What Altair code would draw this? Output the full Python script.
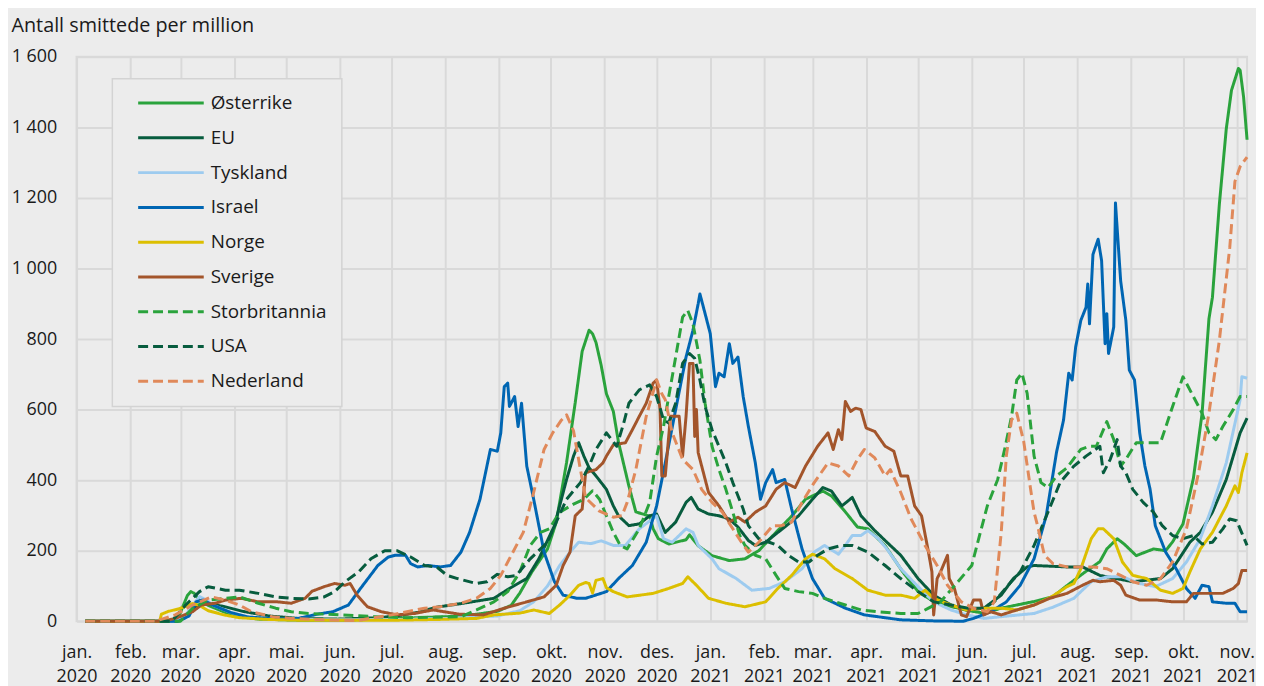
import json
import pandas as pd
import altair as alt

# ---------------- data (x = days since 1 Jan 2020, y = cases per million) ----------------
series_names = ["Østerrike", "EU", "Tyskland", "Israel", "Norge", "Sverige",
                "Storbritannia", "USA", "Nederland"]
series_colors = ["#2aa33c", "#075c3e", "#9dcbef", "#0066b3", "#dcbf00", "#a3552b",
                 "#2aa33c", "#075c3e", "#e0895a"]
series_dash = [[1, 0], [1, 0], [1, 0], [1, 0], [1, 0], [1, 0], [10, 5], [10, 5], [10, 5]]

month_labels = ["jan.", "feb.", "mar.", "apr.", "mai.", "jun.", "jul.", "aug.",
                "sep.", "okt.", "nov.", "des."]
start_date = "2020-01-01"
last_tick = "2021-11-01"
x_max_day = 676
y_ticks = [0, 200, 400, 600, 800, 1000, 1200, 1400, 1600]

aut_day = [5,58,61,64,66,68,71,76,80,90,105,128,157,185,203,220,231,243,251,256,263,272,277,283,288,292,296,298,300,303,306,310,313,319,323,331,333,336,342,352,354,359,367,377,386,394,402,413,421,431,436,444,451,457,467,477,486,495,505,514,524,534,553,564,572,582,587,591,595,601,605,612,622,629,633,639,645,650,654,656,660,664,667,671,672,674,676]
aut_val = [0,0,37,73,84,79,59,45,37,17,6,3,3,8,11,14,20,28,45,80,140,205,280,450,620,765,825,815,790,725,645,595,507,383,310,298,262,234,219,231,245,214,186,172,177,200,242,298,346,369,355,310,267,262,214,141,84,56,42,31,23,37,56,70,101,138,155,169,205,234,219,186,205,200,225,276,405,588,858,918,1182,1396,1505,1567,1562,1486,1365]

eu_day = [5,58,62,66,71,76,85,96,111,128,151,174,185,197,208,222,241,250,260,267,276,283,287,290,293,296,300,306,310,313,319,325,331,335,340,346,352,355,359,365,371,377,382,388,392,398,404,409,417,425,431,436,442,448,453,461,468,476,486,495,505,514,524,534,541,549,553,572,581,591,610,626,633,643,649,656,664,672,676]
eu_val = [0,0,10,30,45,50,42,28,15,8,6,10,15,25,40,50,65,93,121,177,271,402,468,506,468,435,412,374,327,299,271,276,299,304,252,281,337,351,318,304,299,290,267,229,215,224,248,267,299,346,379,369,327,351,299,257,224,187,121,74,46,32,37,74,121,154,158,154,154,130,112,121,149,224,252,309,402,534,576]

de_day = [5,56,62,67,71,75,79,89,99,117,145,185,214,243,256,264,272,279,285,290,297,303,310,317,325,335,339,344,352,356,359,367,371,381,390,400,409,419,426,432,440,444,448,453,457,463,468,476,486,495,505,514,524,534,553,564,576,586,595,604,614,623,633,641,649,656,664,672,673,676]
de_val = [0,0,10,45,70,60,45,25,12,6,4,5,8,15,30,55,100,158,196,224,220,228,215,215,262,299,234,224,262,252,215,177,149,121,88,93,112,149,196,215,190,215,243,243,257,234,205,149,98,55,32,18,8,13,22,40,65,112,126,126,107,98,121,168,234,327,449,628,693,689]

il_day = [5,59,65,69,73,79,89,99,117,128,139,148,157,164,174,180,184,190,193,197,203,210,216,222,227,233,239,243,245,247,249,250,253,255,257,260,264,270,276,281,289,294,306,313,321,329,335,340,346,352,356,359,360,363,366,369,371,374,377,379,382,385,388,392,395,398,402,404,409,413,419,425,432,444,455,476,495,512,518,528,537,545,553,560,566,570,573,575,577,580,583,584,585,587,590,592,594,595,596,599,600,603,606,608,611,614,617,620,623,629,635,641,646,650,654,656,664,669,672,676]
il_val = [0,0,15,55,60,45,25,12,6,8,20,27,46,93,158,182,187,187,163,154,158,154,158,196,252,346,487,482,534,665,675,609,637,552,618,440,346,196,112,74,65,65,84,121,158,224,327,449,600,749,825,900,928,872,815,665,703,693,787,731,749,637,552,449,346,393,430,393,402,318,205,121,65,37,18,4,1,0,8,27,55,102,177,299,480,570,703,684,777,853,890,956,843,1040,1083,1022,787,872,759,834,1186,965,853,712,684,534,440,374,271,196,149,93,65,102,98,55,51,51,27,27]

no_day = [5,48,49,53,59,67,71,76,85,94,111,128,185,208,231,241,256,264,273,279,285,290,294,296,298,300,304,306,310,318,333,342,350,353,358,365,375,386,398,405,413,421,425,432,438,448,457,467,476,484,490,495,505,514,524,534,543,553,563,572,576,580,586,590,593,599,604,610,618,626,633,639,643,649,656,664,669,671,673,676]
no_val = [0,0,20,28,35,50,45,30,18,10,5,3,3,5,8,18,23,32,22,46,74,102,110,107,80,116,121,95,84,69,79,93,107,126,102,65,51,41,55,93,130,177,190,177,149,121,88,74,74,65,88,65,46,32,37,37,32,46,69,98,107,149,234,262,262,234,168,130,121,88,79,93,140,205,252,327,384,365,421,477]

se_day = [5,50,57,67,72,80,86,95,105,116,124,132,136,143,149,155,158,162,168,176,185,195,206,221,235,247,260,270,277,281,285,288,292,294,300,304,306,310,317,321,325,329,333,335,337,338,340,343,348,350,352,354,356,357,358,359,365,371,377,382,386,392,398,404,409,415,421,428,434,437,440,442,444,447,450,453,456,461,467,472,476,480,484,488,492,494,495,497,499,503,504,507,511,514,518,522,524,528,534,543,553,562,572,581,587,591,599,603,606,614,624,633,641,645,652,662,668,671,673,676]
se_val = [0,0,8,27,46,51,60,65,55,55,51,65,85,98,107,102,107,74,41,27,18,22,32,20,18,37,55,69,102,158,196,299,318,421,430,449,468,500,506,543,581,618,675,684,600,412,412,581,581,468,581,731,731,524,600,478,365,327,281,295,281,309,327,374,393,379,440,496,534,487,543,515,623,595,604,600,548,538,496,482,412,412,327,299,196,140,18,121,140,187,121,93,18,13,60,60,18,27,18,32,46,65,79,102,116,112,116,102,74,60,60,55,55,79,79,79,93,107,144,144]

uk_day = [5,60,67,76,86,94,105,115,124,134,153,172,191,222,231,241,249,256,262,268,273,279,287,293,298,302,306,310,314,318,325,331,335,339,342,346,350,353,356,360,363,367,371,375,379,383,386,392,398,404,409,417,425,432,444,453,463,476,486,492,499,509,517,520,526,532,536,540,543,546,549,553,557,561,566,572,580,585,589,595,599,603,606,612,626,633,639,645,650,654,658,662,668,672,676]
uk_val = [0,0,37,60,65,69,51,37,27,22,18,13,10,13,32,55,84,140,215,252,262,309,332,346,370,346,299,252,215,205,262,337,468,552,637,749,862,881,843,740,618,496,430,374,309,243,215,187,177,130,93,84,79,65,46,32,27,22,22,37,55,112,158,215,327,402,487,581,684,703,646,468,393,379,412,435,487,496,496,566,515,440,459,506,506,609,693,637,590,534,515,552,600,637,637]

us_day = [5,55,63,71,76,86,94,105,115,124,134,143,149,155,163,170,178,185,193,201,208,214,220,231,237,243,249,254,262,272,277,283,291,296,300,306,312,316,319,325,331,335,339,342,346,350,354,357,360,363,367,371,375,379,385,388,394,400,405,411,417,423,428,434,442,448,457,467,476,486,495,505,515,524,530,538,545,553,561,568,576,583,591,593,597,601,603,606,610,616,622,627,633,639,645,650,656,662,666,670,673,676]
us_val = [0,0,46,84,98,88,88,79,69,65,63,69,84,112,140,177,200,200,182,158,154,130,121,107,112,133,126,130,177,224,281,346,393,440,487,534,496,562,618,656,670,637,571,562,618,731,759,745,684,609,543,496,449,393,318,271,234,224,215,187,168,168,187,205,215,215,196,158,121,84,55,46,37,37,55,102,140,215,309,393,440,468,496,421,459,515,440,421,374,337,309,271,243,234,243,219,224,262,290,285,250,215]

nl_day = [5,47,48,57,67,78,86,94,101,113,124,143,162,182,201,210,222,231,239,245,250,258,264,270,275,280,283,287,291,294,302,310,315,318,323,329,335,338,340,344,350,356,361,367,373,379,384,388,394,402,407,413,419,426,434,440,446,451,455,461,467,470,476,482,490,497,503,511,518,526,530,534,537,540,543,547,551,553,555,559,564,572,587,595,603,610,618,626,633,641,648,654,660,666,669,672,676]
nl_val = [0,0,4,18,46,69,60,46,27,13,8,4,2,18,37,41,51,65,93,130,177,252,365,487,534,570,585,540,430,350,312,295,299,337,430,581,684,645,628,534,459,430,374,337,309,262,224,196,224,271,271,281,337,393,449,440,412,459,487,463,412,430,365,290,215,158,102,55,37,27,55,250,470,571,590,510,374,309,271,187,163,154,154,149,130,112,102,121,168,262,421,590,796,1059,1247,1289,1316]

series_data = [
    (aut_day, aut_val), (eu_day, eu_val), (de_day, de_val), (il_day, il_val),
    (no_day, no_val), (se_day, se_val), (uk_day, uk_val), (us_day, us_val),
    (nl_day, nl_val),
]

rows = []
for name, (days, vals) in zip(series_names, series_data):
    for d, v in zip(days, vals):
        rows.append({"series": name, "day": d, "value": v})
df = pd.DataFrame(rows)

# ---------------- axis ticks / labels ----------------
month_starts = pd.date_range(start_date, last_tick, freq="MS")
tick_days = [int((m - pd.Timestamp(start_date)).days) for m in month_starts]
tick_month = [month_labels[m.month - 1] for m in month_starts]
tick_year = [str(m.year) for m in month_starts]

tj, mj, yj = json.dumps(tick_days), json.dumps(tick_month), json.dumps(tick_year)
x_label_expr = f"[{mj}[indexof({tj}, datum.value)], {yj}[indexof({tj}, datum.value)]]"

FONT = "Open Sans"
TXT = "#1a1a1a"
GRID = "#d9d9d9"
BG = "#ececec"

legend = alt.Legend(
    title=None, orient="none", legendX=36, legendY=22, direction="vertical",
    symbolType="M-6.6,0H6.6", symbolSize=100, symbolStrokeWidth=3,
    symbolOffset=34.5, labelOffset=30.5, rowPadding=15,
    labelFont=FONT, labelFontSize=19, labelColor=TXT, labelLimit=400,
    padding=15, fillColor=BG, strokeColor="#d3d3d3",
)

chart = alt.Chart(df).mark_line(strokeWidth=3, strokeJoin="round").encode(
    x=alt.X("day:Q",
            scale=alt.Scale(domain=[0, x_max_day], nice=False, zero=False),
            axis=alt.Axis(values=tick_days, labelExpr=x_label_expr, title=None,
                          ticks=False, domain=False, grid=True,
                          labelFont=FONT, labelFontSize=18, labelColor=TXT,
                          labelPadding=22, labelLineHeight=25, labelBaseline="top",
                          labelFlush=False, labelOverlap=False, labelBound=False)),
    y=alt.Y("value:Q",
            scale=alt.Scale(domain=[0, 1600], nice=False),
            axis=alt.Axis(values=y_ticks,
                          labelExpr="replace(format(datum.value, ','), ',', ' ')",
                          ticks=False, domain=False, grid=True,
                          labelFont=FONT, labelFontSize=18, labelColor=TXT, labelPadding=20,
                          title="Antall smittede per million", titleAngle=0,
                          titleAlign="left", titleBaseline="alphabetic",
                          titleX=-66, titleY=-26, titleFont=FONT, titleFontSize=19.9,
                          titleFontWeight="normal", titleColor=TXT)),
    color=alt.Color("series:N", scale=alt.Scale(domain=series_names, range=series_colors),
                    legend=legend),
    strokeDash=alt.StrokeDash("series:N", scale=alt.Scale(domain=series_names, range=series_dash),
                              legend=legend),
).properties(
    width=1178, height=568, background=BG,
    padding={"left": 69, "top": 47, "right": 9, "bottom": 63},
    autosize=alt.AutoSizeParams(type="none"),
).configure_view(
    stroke=GRID, strokeWidth=2, fill=BG,
).configure_axis(
    gridColor=GRID, gridWidth=2,
).configure_legend(
    strokeWidth=1.5,
)

chart.save("out.html", embed_options={"renderer": "svg", "actions": False})
